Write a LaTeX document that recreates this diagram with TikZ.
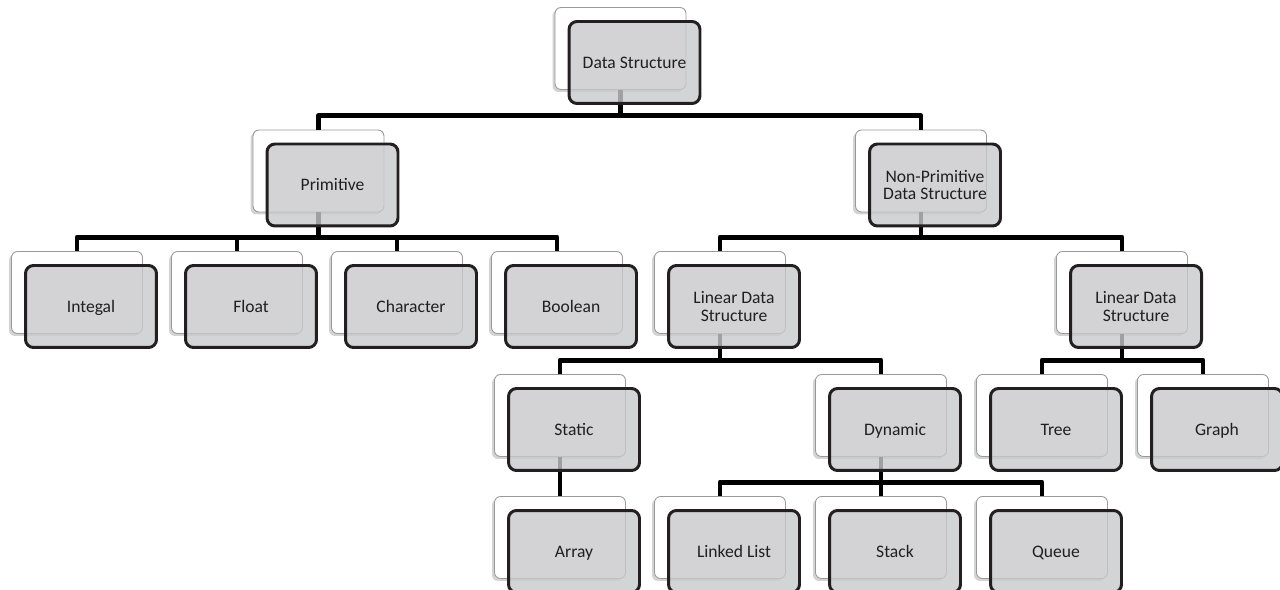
\documentclass[tikz,border=0pt]{standalone}
\usepackage{fontspec}
\setmainfont{Carlito}
\usetikzlibrary{positioning,shadows}
\definecolor{cardgray}{RGB}{200,201,204}
\definecolor{cardline}{RGB}{35,31,32}
\tikzset{
    every picture/.style={x=0.02cm,y=-0.02cm},
    backcard/.style={draw=gray!80,line width=0.5pt,fill=white,rounded corners=0.12cm,
        minimum width=2.62cm,minimum height=1.64cm,inner sep=0pt,
        drop shadow={shadow xshift=-0.05cm,shadow yshift=-0.05cm,opacity=0.35}},
    frontcard/.style={draw=cardline,line width=1.7pt,fill=cardgray,fill opacity=0.8,text opacity=1,
        rounded corners=0.16cm,minimum width=2.62cm,minimum height=1.64cm,inner sep=0pt,
        align=center,font=\fontsize{10}{10}\selectfont,text=black!88},
    oneline/.style={text height=0.64em,text depth=0pt},
    twoline/.style={},
    link/.style={line width=2.8pt,draw=black,line join=round},
    fork/.style={link,to path={(\tikztostart.south) |- ([yshift=0.28cm]\tikztotarget.north) -- (\tikztotarget.north)}},
}
\begin{document}
\begin{tikzpicture}
\useasboundingbox (0,0) rectangle (1280,590);

% back cards
\foreach \n/\x/\y in {ds/620.5/48.5, prim/318.5/171, nprim/921/171,
    int/77/292.5, flt/237/292.5, chr/397/292.5, bool/557/292.5,
    lin/720/292.5, nlin/1122/292.5,
    stat/560/415.5, dyn/881/415.5, tree/1042/415.5, graph/1203/415.5,
    arr/560/537.5, ll/720/537.5, stk/881/537.5, que/1042/537.5}{
  \node[backcard] (\n) at (\x,\y) {};
}

% connectors
\path
(ds) edge[fork] (prim)
(ds) edge[fork] (nprim)
(prim) edge[fork] (int)
(prim) edge[fork] (flt)
(prim) edge[fork] (chr)
(prim) edge[fork] (bool)
(nprim) edge[fork] (lin)
(nprim) edge[fork] (nlin)
(lin) edge[fork] (stat)
(lin) edge[fork] (dyn)
(nlin) edge[fork] (tree)
(nlin) edge[fork] (graph)
(stat) edge[fork] (arr)
(dyn) edge[fork] (ll)
(dyn) edge[fork] (stk)
(dyn) edge[fork] (que)
;

% front cards
\foreach \n/\t/\s in {ds/Data Structure/oneline, prim/Primitive/oneline,
    nprim/Non-Primitive\\Data Structure/twoline,
    int/Integal/oneline, flt/Float/oneline, chr/Character/oneline, bool/Boolean/oneline,
    lin/Linear Data\\Structure/twoline, nlin/Linear Data\\Structure/twoline,
    stat/Static/oneline, dyn/Dynamic/oneline, tree/Tree/oneline, graph/Graph/oneline,
    arr/Array/oneline, ll/Linked List/oneline, stk/Stack/oneline, que/Queue/oneline}{
  \node[frontcard,\s] (\n f) at ([shift={(14,14)}]\n.center) {\t};
}

\end{tikzpicture}
\end{document}
